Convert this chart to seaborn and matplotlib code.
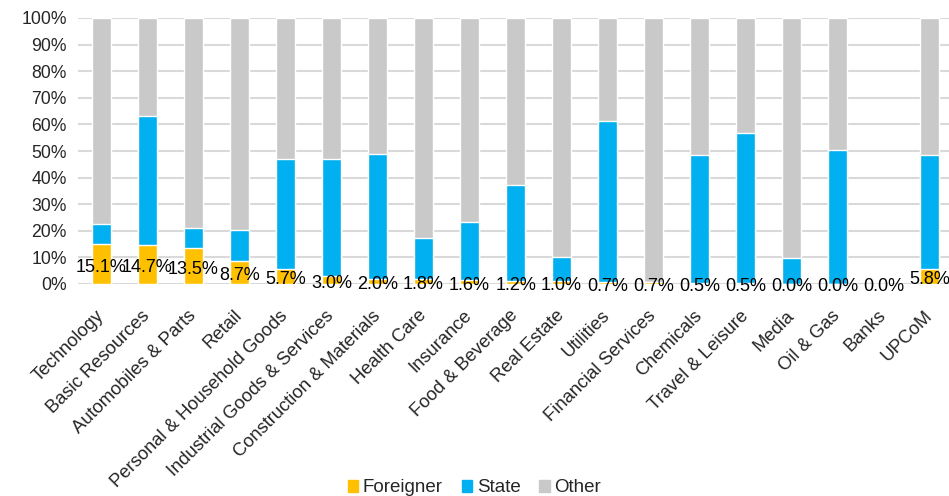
import matplotlib
matplotlib.use("Agg")
import matplotlib.pyplot as plt
from matplotlib.patches import Patch
from matplotlib.ticker import PercentFormatter
import seaborn as sns
import pandas as pd

categories = ["Technology", "Basic Resources", "Automobiles & Parts", "Retail",
              "Personal & Household Goods", "Industrial Goods & Services",
              "Construction & Materials", "Health Care", "Insurance",
              "Food & Beverage", "Real Estate", "Utilities", "Financial Services",
              "Chemicals", "Travel & Leisure", "Media", "Oil & Gas", "Banks", "UPCoM"]
foreigner = [15.1, 14.7, 13.5, 8.7, 5.7, 3.0, 2.0, 1.8, 1.6, 1.2, 1.0, 0.7, 0.7,
             0.5, 0.5, 0.0, 0.0, 0.0, 5.8]
state = [7.5, 48.5, 7.6, 11.6, 41.3, 44.0, 46.9, 15.5, 21.7, 36.0, 9.2, 60.6, 0.0,
         48.0, 56.3, 9.8, 50.4, 0.0, 42.7]
other = [77.4, 36.8, 78.9, 79.7, 53.0, 53.0, 51.1, 82.7, 76.7, 62.8, 89.8, 38.7, 99.3,
         51.5, 43.2, 90.2, 49.6, 0.0, 51.5]

C_F, C_S, C_O = "#FFC000", "#00B0F0", "#C9C9C9"

df = pd.DataFrame({"cat": categories, "F": foreigner, "S": state, "O": other})
df["FS"] = df["F"] + df["S"]
df["FSO"] = df["FS"] + df["O"]

sns.set_style("white")
plt.rcParams["font.family"] = ["Liberation Sans", "DejaVu Sans"]

fig = plt.figure(figsize=(9.49, 4.96), dpi=100)
ax = fig.add_axes([78/949, 1-284/496, 1-78/949, (284-18)/496])

w = 0.41
sns.barplot(data=df, x="cat", y="FSO", color=C_O, width=w, saturation=1, ax=ax, zorder=3)
sns.barplot(data=df, x="cat", y="FS", color=C_S, width=w, saturation=1, ax=ax, zorder=3)
sns.barplot(data=df, x="cat", y="F", color=C_F, width=w, saturation=1, ax=ax, zorder=3)

for i, v in enumerate(foreigner):
    ax.text(i, max(v / 2, 0.2) - 1.2, f"{v:.1f}%", ha="center", va="center",
            fontsize=13, color="black", zorder=5)

ax.set_ylim(0, 100)
ax.set_xlim(-0.51, 18.42)
ax.set_yticks(range(0, 101, 10))
ax.yaxis.set_major_formatter(PercentFormatter(decimals=0))
ax.grid(axis="y", color="#D9D9D9", linewidth=1.5, zorder=0)
ax.set_axisbelow(True)
for s in ax.spines.values():
    s.set_visible(False)
ax.set_xlabel("")
ax.set_ylabel("")
ax.tick_params(axis="y", length=0, labelsize=12.7, pad=8)
ax.tick_params(axis="x", length=0, labelsize=13.2, pad=21)
plt.setp(ax.get_xticklabels(), rotation=45, ha="right", va="center",
         rotation_mode="anchor")

handles = [Patch(color=C_F, label="Foreigner"), Patch(color=C_S, label="State"),
           Patch(color=C_O, label="Other")]
fig.legend(handles=handles, loc="lower center", bbox_to_anchor=(0.5, -0.035), ncol=3,
           frameon=False, fontsize=13.5, handlelength=0.55, handleheight=0.55,
           handletextpad=0.25, columnspacing=1.0)

fig.savefig("out.png", dpi=100)
